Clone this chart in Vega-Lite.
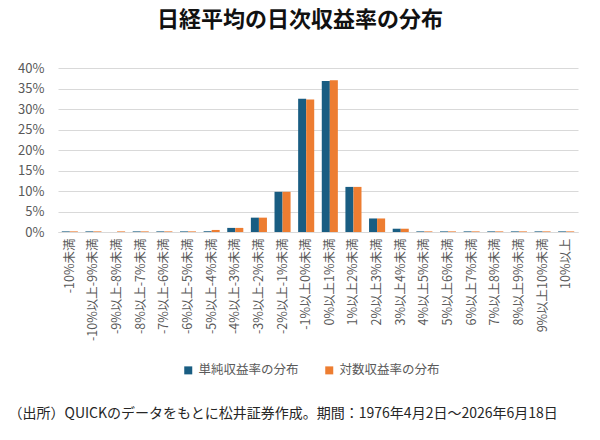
{
  "$schema": "https://vega.github.io/schema/vega-lite/v6.json",
  "autosize": {"type": "none"},
  "width": 520,
  "height": 164,
  "padding": {"left": 58, "top": 68, "right": 22, "bottom": 208},
  "background": "white",
  "config": {
    "font": "Noto Sans CJK JP",
    "view": {"stroke": null}
  },
  "title": {
    "text": "日経平均の日次収益率の分布",
    "fontSize": 22,
    "fontWeight": "bold",
    "color": "#111111",
    "anchor": "middle",
    "dx": -18,
    "offset": 30
  },
  "data": {
    "values": [
      {"bin": "-10%未満", "series": "単純収益率の分布", "value": 0.0015},
      {"bin": "-10%未満", "series": "対数収益率の分布", "value": 0.0015},
      {"bin": "-10%以上-9%未満", "series": "単純収益率の分布", "value": 0.0015},
      {"bin": "-10%以上-9%未満", "series": "対数収益率の分布", "value": 0.0015},
      {"bin": "-9%以上-8%未満", "series": "単純収益率の分布", "value": 0},
      {"bin": "-9%以上-8%未満", "series": "対数収益率の分布", "value": 0.0015},
      {"bin": "-8%以上-7%未満", "series": "単純収益率の分布", "value": 0.0015},
      {"bin": "-8%以上-7%未満", "series": "対数収益率の分布", "value": 0.0015},
      {"bin": "-7%以上-6%未満", "series": "単純収益率の分布", "value": 0.0015},
      {"bin": "-7%以上-6%未満", "series": "対数収益率の分布", "value": 0.0015},
      {"bin": "-6%以上-5%未満", "series": "単純収益率の分布", "value": 0.0015},
      {"bin": "-6%以上-5%未満", "series": "対数収益率の分布", "value": 0.0015},
      {"bin": "-5%以上-4%未満", "series": "単純収益率の分布", "value": 0.0018},
      {"bin": "-5%以上-4%未満", "series": "対数収益率の分布", "value": 0.005},
      {"bin": "-4%以上-3%未満", "series": "単純収益率の分布", "value": 0.010},
      {"bin": "-4%以上-3%未満", "series": "対数収益率の分布", "value": 0.010},
      {"bin": "-3%以上-2%未満", "series": "単純収益率の分布", "value": 0.035},
      {"bin": "-3%以上-2%未満", "series": "対数収益率の分布", "value": 0.035},
      {"bin": "-2%以上-1%未満", "series": "単純収益率の分布", "value": 0.098},
      {"bin": "-2%以上-1%未満", "series": "対数収益率の分布", "value": 0.098},
      {"bin": "-1%以上0%未満", "series": "単純収益率の分布", "value": 0.325},
      {"bin": "-1%以上0%未満", "series": "対数収益率の分布", "value": 0.323},
      {"bin": "0%以上1%未満", "series": "単純収益率の分布", "value": 0.368},
      {"bin": "0%以上1%未満", "series": "対数収益率の分布", "value": 0.370},
      {"bin": "1%以上2%未満", "series": "単純収益率の分布", "value": 0.110},
      {"bin": "1%以上2%未満", "series": "対数収益率の分布", "value": 0.110},
      {"bin": "2%以上3%未満", "series": "単純収益率の分布", "value": 0.033},
      {"bin": "2%以上3%未満", "series": "対数収益率の分布", "value": 0.033},
      {"bin": "3%以上4%未満", "series": "単純収益率の分布", "value": 0.008},
      {"bin": "3%以上4%未満", "series": "対数収益率の分布", "value": 0.008},
      {"bin": "4%以上5%未満", "series": "単純収益率の分布", "value": 0.0015},
      {"bin": "4%以上5%未満", "series": "対数収益率の分布", "value": 0.0015},
      {"bin": "5%以上6%未満", "series": "単純収益率の分布", "value": 0.0015},
      {"bin": "5%以上6%未満", "series": "対数収益率の分布", "value": 0.0015},
      {"bin": "6%以上7%未満", "series": "単純収益率の分布", "value": 0.0015},
      {"bin": "6%以上7%未満", "series": "対数収益率の分布", "value": 0.0015},
      {"bin": "7%以上8%未満", "series": "単純収益率の分布", "value": 0.0015},
      {"bin": "7%以上8%未満", "series": "対数収益率の分布", "value": 0.0015},
      {"bin": "8%以上9%未満", "series": "単純収益率の分布", "value": 0.0015},
      {"bin": "8%以上9%未満", "series": "対数収益率の分布", "value": 0.0015},
      {"bin": "9%以上10%未満", "series": "単純収益率の分布", "value": 0.0015},
      {"bin": "9%以上10%未満", "series": "対数収益率の分布", "value": 0.0015},
      {"bin": "10%以上", "series": "単純収益率の分布", "value": 0.0015},
      {"bin": "10%以上", "series": "対数収益率の分布", "value": 0.0015}
    ]
  },
  "mark": {"type": "bar"},
  "encoding": {
    "x": {
      "field": "bin",
      "type": "nominal",
      "sort": ["-10%未満", "-10%以上-9%未満", "-9%以上-8%未満", "-8%以上-7%未満", "-7%以上-6%未満", "-6%以上-5%未満", "-5%以上-4%未満", "-4%以上-3%未満", "-3%以上-2%未満", "-2%以上-1%未満", "-1%以上0%未満", "0%以上1%未満", "1%以上2%未満", "2%以上3%未満", "3%以上4%未満", "4%以上5%未満", "5%以上6%未満", "6%以上7%未満", "7%以上8%未満", "8%以上9%未満", "9%以上10%未満", "10%以上"],
      "scale": {"paddingInner": 0.32, "paddingOuter": 0.16},
      "axis": {
        "title": "（出所）QUICKのデータをもとに松井証券作成。期間：1976年4月2日～2026年6月18日",
        "titleFontSize": 14,
        "titleFontWeight": "normal",
        "titleColor": "#262626",
        "titleAnchor": "start",
        "titleAlign": "left",
        "titleBaseline": "middle",
        "titleX": -50,
        "titleY": 181,
        "labelAngle": -90,
        "labelFontSize": 12.5,
        "labelColor": "#595959",
        "labelPadding": 6,
        "ticks": false,
        "domainColor": "#d9d9d9",
        "domainWidth": 1,
        "grid": false
      }
    },
    "xOffset": {
      "field": "series",
      "type": "nominal",
      "sort": ["単純収益率の分布", "対数収益率の分布"],
      "scale": {"paddingInner": 0, "paddingOuter": 0}
    },
    "y": {
      "field": "value",
      "type": "quantitative",
      "scale": {"domain": [0, 0.4], "nice": false},
      "axis": {
        "title": null,
        "values": [0, 0.05, 0.1, 0.15, 0.2, 0.25, 0.3, 0.35, 0.4],
        "format": ".0%",
        "labelFontSize": 13,
        "labelColor": "#595959",
        "labelPadding": 14,
        "ticks": false,
        "domain": false,
        "gridColor": "#d9d9d9",
        "gridWidth": 1
      }
    },
    "color": {
      "field": "series",
      "type": "nominal",
      "scale": {
        "domain": ["単純収益率の分布", "対数収益率の分布"],
        "range": ["#195d82", "#ed7d31"]
      },
      "legend": {
        "title": null,
        "orient": "none",
        "direction": "horizontal",
        "legendX": 124,
        "legendY": 296,
        "symbolType": "square",
        "symbolSize": 64,
        "symbolStrokeWidth": 0,
        "labelFontSize": 12.5,
        "labelColor": "#595959",
        "labelOffset": 4,
        "columnPadding": 24
      }
    }
  }
}
